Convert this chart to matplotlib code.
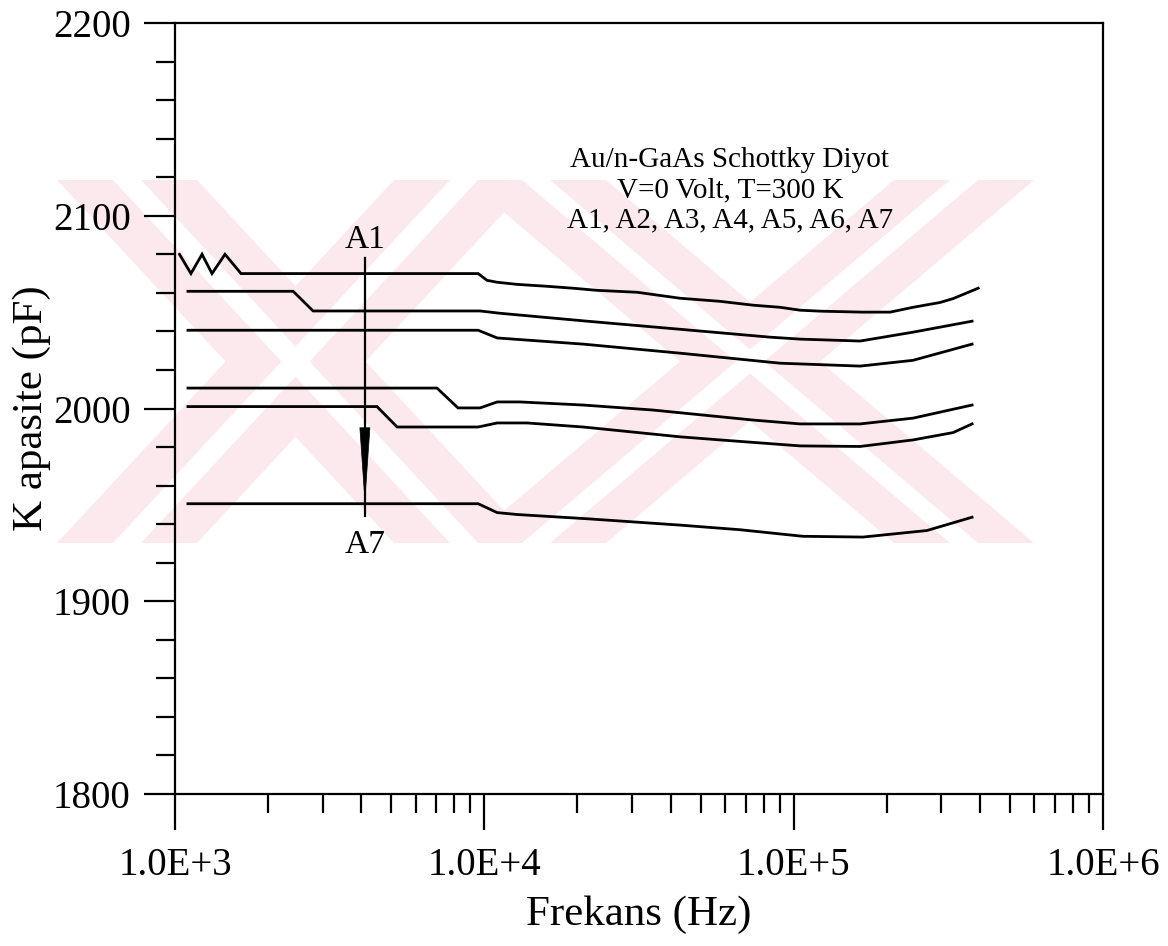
import matplotlib
matplotlib.use("Agg")
import matplotlib.pyplot as plt
from matplotlib.patches import Polygon
from matplotlib.ticker import LogLocator, MultipleLocator, NullFormatter

plt.rcParams['font.family'] = ['Liberation Serif', 'DejaVu Serif']

# frequency (Hz) / capacitance (pF)
f_a1 = [1034, 1126, 1223, 1317, 1451, 1635, 9550, 10200, 11000, 12760, 15950,
        19360, 23130, 31180, 42940, 57820, 73960, 90400, 104900, 121700,
        166400, 205000, 243200, 297300, 327500, 394900]
c_a1 = [2080, 2070, 2080, 2070, 2080, 2070, 2070, 2066.5, 2065.5, 2064.4, 2063.4,
        2062.4, 2061.3, 2060.3, 2057.2, 2055.6, 2053.6, 2052.5, 2051, 2050.5,
        2050, 2050, 2052.5, 2055, 2057, 2062.4]

f_a2 = [1101, 2410, 2795, 9690, 11250, 21480, 42940, 83970, 104900, 164000,
        243200, 377400]
c_a2 = [2060.8, 2060.8, 2050.6, 2050.6, 2049.4, 2045.3, 2041.1, 2037, 2036,
        2035, 2039.6, 2045.3]

f_a3 = [1101, 9550, 11000, 20860, 42940, 90400, 164000, 243200, 377400]
c_a3 = [2040.6, 2040.6, 2036.6, 2033.4, 2028.7, 2023.5, 2022, 2025, 2033.4]

f_a4 = [1101, 7030, 8220, 9690, 11000, 13040, 20860, 35090, 73960, 104900,
        164000, 243200, 377400]
c_a4 = [2010.6, 2010.6, 2000.3, 2000.3, 2003.4, 2003.4, 2001.8, 1999.2, 1994,
        1992, 1992, 1995, 2001.8]

f_a5 = [1101, 4498, 5224, 9550, 11000, 13740, 20860, 42940, 57820, 104900,
        164000, 243200, 327500, 377400]
c_a5 = [2001, 2001, 1990.4, 1990.4, 1992.5, 1992.5, 1990.4, 1985.3, 1983.7,
        1980.6, 1980.3, 1983.7, 1987.5, 1992]

f_a7 = [1101, 9550, 11000, 12760, 21480, 42940, 67100, 107000, 167500,
        269800, 377400]
c_a7 = [1950.6, 1950.6, 1946, 1945, 1942.8, 1939.5, 1937.1, 1933.7, 1933.3,
        1936.7, 1943.6]

curves = [(f_a1, c_a1), (f_a2, c_a2), (f_a3, c_a3),
          (f_a4, c_a4), (f_a5, c_a5), (f_a7, c_a7)]

x_ticks = [1e3, 1e4, 1e5, 1e6]
x_tick_labels = ['1.0E+3', '1.0E+4', '1.0E+5', '1.0E+6']
y_ticks = [1800, 1900, 2000, 2100, 2200]

info_text = 'Au/n-GaAs Schottky Diyot\nV=0 Volt, T=300 K\nA1, A2, A3, A4, A5, A6, A7'

W, H = 1168, 946
fig = plt.figure(figsize=(W / 100, H / 100), dpi=100)
ax = fig.add_axes([175 / W, 1 - 794 / H, (1103 - 175) / W, (794 - 23) / H])
ax.set_facecolor('none')

# faint thesis watermark behind the plot (pixel coords of the original)
pink = '#fce9ed'
ytop, ybot = 180, 543
bands = [((57, 197), (394, 534)), ((394, 534), (57, 197)),
         ((466, 606), (894, 1034)), ((894, 1034), (466, 606))]


def band_poly(t0, t1, b0, b1, color):
    pts = [(t0, ytop), (t1, ytop), (b1, ybot), (b0, ybot)]
    pts = [(px / W, 1 - py / H) for px, py in pts]
    fig.add_artist(Polygon(pts, closed=True, facecolor=color, edgecolor='none',
                           transform=fig.transFigure, zorder=-10))


for (t0, t1), (b0, b1) in bands:
    band_poly(t0, t1, b0, b1, pink)
for (t0, t1), (b0, b1) in bands:
    tm, bm = (t0 + t1) / 2, (b0 + b1) / 2
    band_poly(tm - 14, tm + 14, bm - 14, bm + 14, 'white')

for f, c in curves:
    ax.plot(f, c, color='black', lw=2, solid_joinstyle='miter')

# A1 -> A7 arrow
xa = 4110
ax.plot([xa, xa], [2078, 1944], color='black', lw=1.6)
ax.annotate('', xy=(xa, 1952.5), xytext=(xa, 1990),
            arrowprops=dict(arrowstyle='wedge,tail_width=0.36,shrink_factor=0.5',
                            color='black', lw=0.5, shrinkA=0, shrinkB=0,
                            mutation_scale=20))
ax.text(xa, 2087.4, 'A1', ha='center', va='center', fontsize=24)
ax.text(xa, 1929.2, 'A7', ha='center', va='center', fontsize=24)

ax.text(62200, 2113.3, info_text, ha='center', va='center', fontsize=21,
        linespacing=1.22)

ax.set_xscale('log')
ax.set_xlim(1e3, 1e6)
ax.set_ylim(1800, 2200)
ax.set_xticks(x_ticks)
ax.set_xticklabels(x_tick_labels)
ax.xaxis.set_minor_locator(LogLocator(base=10, subs=range(2, 10)))
ax.xaxis.set_minor_formatter(NullFormatter())
ax.set_yticks(y_ticks)
ax.yaxis.set_minor_locator(MultipleLocator(20))

ax.tick_params(which='major', direction='out', length=22, width=1.6,
               labelsize=28, pad=10)
ax.tick_params(axis='x', which='major', length=26, pad=12)
ax.tick_params(which='minor', direction='out', length=14, width=1.6)
for s in ax.spines.values():
    s.set_linewidth(1.6)

ax.set_xlabel('Frekans (Hz)', fontsize=31)
ax.xaxis.set_label_coords(0.5, -(915 - 794) / 771)
ax.xaxis.label.set_va('center')
ax.set_ylabel('K apasite (pF)', fontsize=31)
ax.yaxis.set_label_coords(-(175 - 32) / 928, 0.5)
ax.yaxis.label.set_va('center')

fig.savefig('out.png', dpi=100)
